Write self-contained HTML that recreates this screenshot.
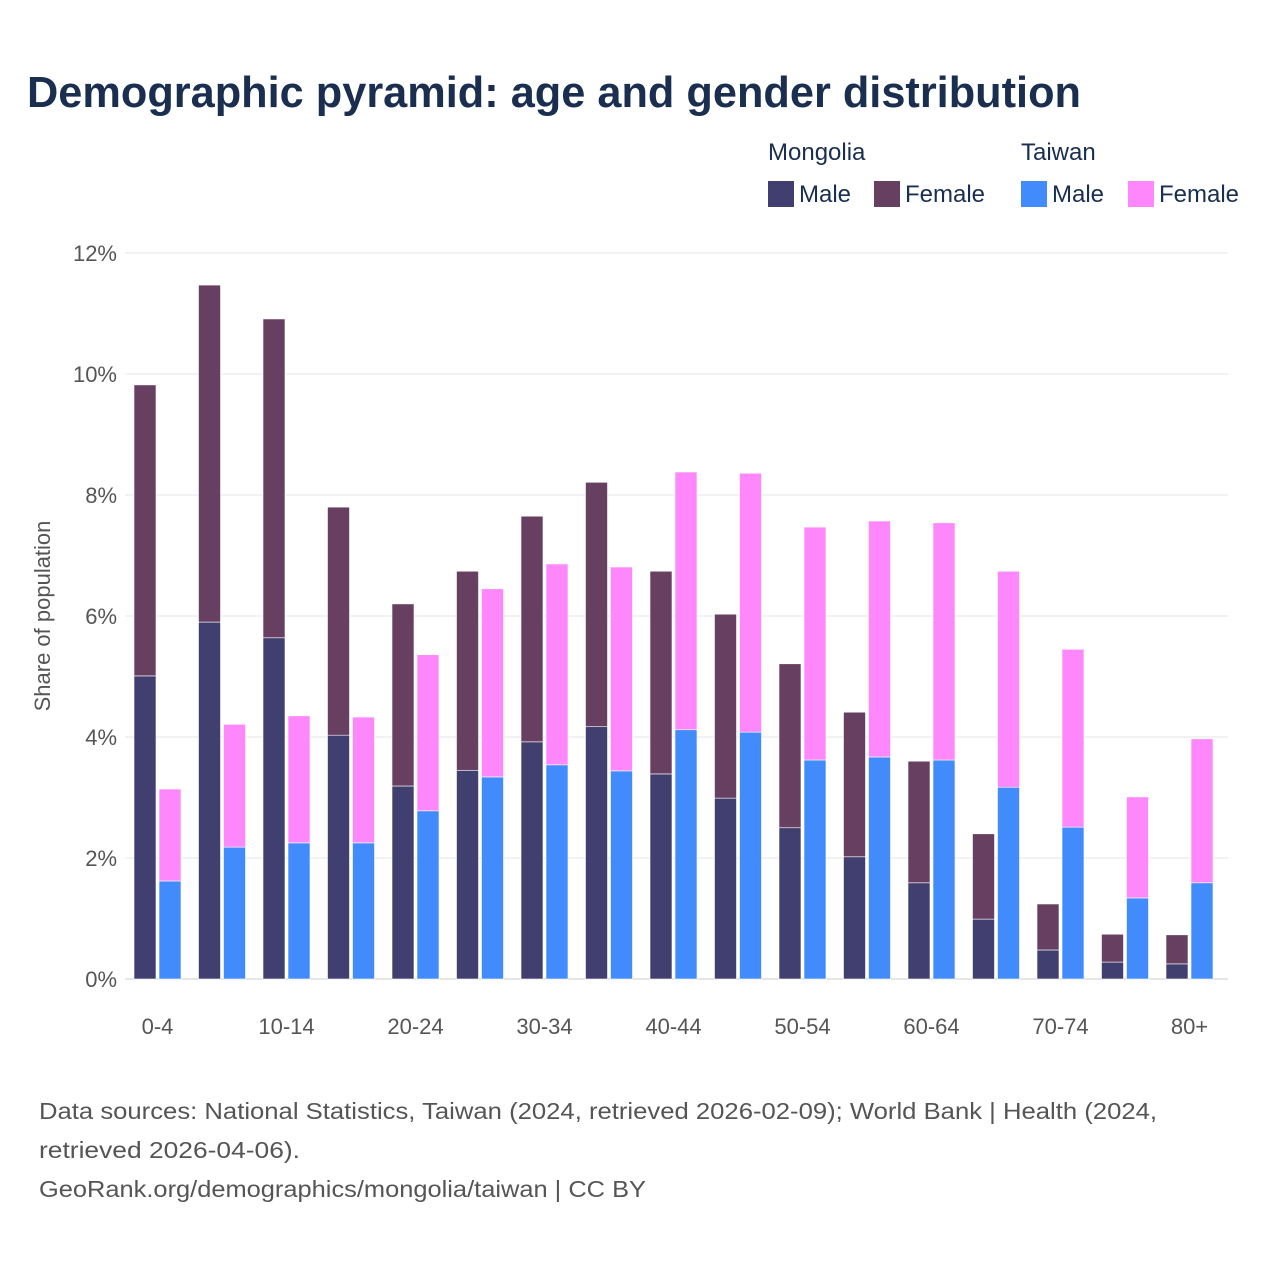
<!DOCTYPE html>
<html><head><meta charset="utf-8"><style>
body{margin:0;background:#fff;width:1280px;height:1280px;overflow:hidden;font-family:"Liberation Sans",sans-serif}
</style></head><body>
<svg width="1280" height="1280" viewBox="0 0 1280 1280" font-family="Liberation Sans, sans-serif">
<text x="27" y="107" font-size="44" font-weight="bold" fill="#1a2e4f" textLength="1054" lengthAdjust="spacingAndGlyphs">Demographic pyramid: age and gender distribution</text>
<g font-size="24" fill="#1a2e4f">
<text x="768" y="160">Mongolia</text>
<text x="1021" y="160">Taiwan</text>
<rect x="768" y="181" width="26" height="26" fill="#413f6f"/>
<text x="799" y="202">Male</text>
<rect x="874" y="181" width="26" height="26" fill="#673f61"/>
<text x="905" y="202">Female</text>
<rect x="1021" y="181" width="26" height="26" fill="#418bfd"/>
<text x="1052" y="202">Male</text>
<rect x="1128" y="181" width="26" height="26" fill="#fe88fb"/>
<text x="1159" y="202">Female</text>
</g>
<g id="grid"></g>
<g id="bars"></g>
<g id="xl"></g>
<text transform="translate(50,616) rotate(-90)" text-anchor="middle" font-size="22" fill="#555">Share of population</text>
<g font-size="23" fill="#555">
<text x="39" y="1119" textLength="1118" lengthAdjust="spacingAndGlyphs">Data sources: National Statistics, Taiwan (2024, retrieved 2026-02-09); World Bank | Health (2024,</text>
<text x="39" y="1158" textLength="261" lengthAdjust="spacingAndGlyphs">retrieved 2026-04-06).</text>
<text x="39" y="1197" textLength="607" lengthAdjust="spacingAndGlyphs">GeoRank.org/demographics/mongolia/taiwan | CC BY</text>
</g>
</svg>
<script>
const categories=["0-4","5-9","10-14","15-19","20-24","25-29","30-34","35-39","40-44","45-49","50-54","55-59","60-64","65-69","70-74","75-79","80+"];
const mnMale=[5.01,5.90,5.64,4.03,3.19,3.45,3.92,4.17,3.39,2.99,2.50,2.02,1.59,0.99,0.48,0.28,0.25];
const mnFemale=[4.81,5.57,5.27,3.77,3.01,3.29,3.73,4.04,3.35,3.04,2.71,2.39,2.01,1.41,0.76,0.46,0.48];
const twMale=[1.62,2.18,2.25,2.25,2.78,3.34,3.54,3.44,4.12,4.08,3.62,3.67,3.62,3.17,2.51,1.34,1.59];
const twFemale=[1.52,2.03,2.10,2.08,2.58,3.11,3.32,3.37,4.26,4.28,3.85,3.90,3.92,3.57,2.94,1.67,2.38];
const yTicks=[0,2,4,6,8,10,12];
const NS="http://www.w3.org/2000/svg";
const y0=979,pxPer=60.5;
const Y=v=>y0-v*pxPer;
const X=i=>157.5+64.5*i;
function mk(t,a,p){const e=document.createElementNS(NS,t);for(const k in a)e.setAttribute(k,a[k]);p.appendChild(e);return e;}
const grid=document.getElementById('grid'),bars=document.getElementById('bars'),xl=document.getElementById('xl');
yTicks.forEach(t=>{
 const l=mk('line',{x1:125,x2:1228,y1:Y(t),y2:Y(t),stroke:t===0?'#ccc':'#e6e6e6','stroke-width':1},grid);
 
 
 const tx=mk('text',{x:117,y:Y(t)+8,'text-anchor':'end','font-size':22,fill:'#555'},grid);
 tx.textContent=t+'%';
 
 
});
function bar(x,v0,v1,c,n){
 const r=mk('rect',{x:x,y:Y(v1),width:22,height:Y(v0)-Y(v1),fill:c,stroke:'#fff','stroke-width':0.6},bars);
 
 
}
categories.forEach((c,i)=>{
 const cx=X(i);
 bar(cx-23.5,0,mnMale[i],'#413f6f','bar-mongolia-male-'+c);
 bar(cx-23.5,mnMale[i],mnMale[i]+mnFemale[i],'#673f61','bar-mongolia-female-'+c);
 bar(cx+1.5,0,twMale[i],'#418bfd','bar-taiwan-male-'+c);
 bar(cx+1.5,twMale[i],twMale[i]+twFemale[i],'#fe88fb','bar-taiwan-female-'+c);
 if(i%2===0){
  const t=mk('text',{x:cx,y:1034,'text-anchor':'middle','font-size':22,fill:'#555'},xl);
  t.textContent=c;
  
  
 }
});
</script>
</body></html>
